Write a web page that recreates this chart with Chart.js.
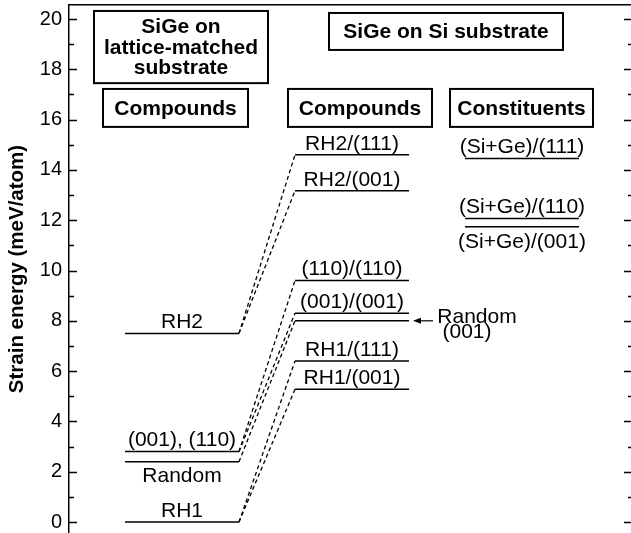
<!DOCTYPE html>
<html><head><meta charset="utf-8">
<script src="https://cdn.jsdelivr.net/npm/chart.js@4/dist/chart.umd.min.js"></script>
<style>html,body{margin:0;padding:0;background:#fff}canvas{display:block}</style>
</head><body>
<canvas id="c" width="631" height="533"></canvas>
<script>
// ---------- data ----------
const yMajorTicks = [0, 2, 4, 6, 8, 10, 12, 14, 16, 18, 20];
const yMinorTicks = [1, 3, 5, 7, 9, 11, 13, 15, 17, 19];
const latticeLabels = ['RH1', 'Random', '(001), (110)', 'RH2'];
const latticeValues = [0, 2.4, 2.8, 7.5];
const siCompLabels = ['RH1/(001)', 'RH1/(111)', 'Random (001)', '(001)/(001)', '(110)/(110)', 'RH2/(001)', 'RH2/(111)'];
const siCompValues = [5.28, 6.4, 8.0, 8.3, 9.6, 13.17, 14.6];
const constLabels = ['(Si+Ge)/(001)', '(Si+Ge)/(110)', '(Si+Ge)/(111)'];
const constValues = [11.74, 12.07, 14.45];
// links: [lattice index, siComp index]
const links = [[3, 6], [3, 5], [2, 4], [2, 3], [1, 2], [0, 1], [0, 0]];

// ---------- layout (x in plot-width units, not data) ----------
const FONT = "'Liberation Sans', Arial, Helvetica, sans-serif";
const COL = { lattice: [56, 170], comp: [226, 340], cons: [396, 510] };
const latticePlace = ['above', 'below', 'above', 'above'];
const siCompPlace = ['above', 'above', 'none', 'above', 'above', 'above', 'above'];
const constPlace = ['below', 'above', 'above'];
const boxes = [
  { x0: 25, x1: 199, y0: 20.32, y1: 17.45, lines: ['SiGe on', 'lattice-matched', 'substrate'] },
  { x0: 34, x1: 179, y0: 17.22, y1: 15.71, lines: ['Compounds'] },
  { x0: 260, x1: 494, y0: 20.24, y1: 18.77, lines: ['SiGe on Si substrate'] },
  { x0: 219, x1: 363, y0: 17.22, y1: 15.71, lines: ['Compounds'] },
  { x0: 381, x1: 524, y0: 17.22, y1: 15.71, lines: ['Constituents'] }
];

const datasets = [];
function seg(x0, x1, y) {
  datasets.push({
    data: [{ x: x0, y: y }, { x: x1, y: y }],
    borderColor: '#000', borderWidth: 1.5, pointRadius: 0, tension: 0
  });
}
latticeValues.forEach(v => seg(COL.lattice[0], COL.lattice[1], v));
siCompValues.forEach(v => seg(COL.comp[0], COL.comp[1], v));
constValues.forEach(v => seg(COL.cons[0], COL.cons[1], v));
links.forEach(([a, b]) => {
  datasets.push({
    data: [{ x: COL.lattice[1], y: latticeValues[a] }, { x: COL.comp[0], y: siCompValues[b] }],
    borderColor: '#000', borderWidth: 1.3, pointRadius: 0, borderDash: [4, 3]
  });
});

const annot = {
  id: 'annot',
  afterDatasetsDraw(chart) {
    const { ctx, scales: { x, y }, chartArea: ca } = chart;
    ctx.save();
    ctx.fillStyle = '#000'; ctx.strokeStyle = '#000';
    // inward ticks
    ctx.lineWidth = 1.5;
    yMajorTicks.concat(yMinorTicks).forEach(v => {
      const major = yMajorTicks.includes(v);
      const py = Math.round(y.getPixelForValue(v)) + 0.5;
      ctx.beginPath();
      ctx.moveTo(ca.left, py); ctx.lineTo(ca.left + (major ? 8 : 5), py);
      ctx.moveTo(ca.right, py); ctx.lineTo(ca.right - (major ? 7 : 3), py);
      ctx.stroke();
    });
    // level labels
    ctx.font = '21px ' + FONT;
    ctx.textAlign = 'center'; ctx.textBaseline = 'middle';
    function lab(col, vals, labels, place) {
      const cx = x.getPixelForValue((col[0] + col[1]) / 2);
      vals.forEach((v, i) => {
        if (place[i] === 'none') return;
        const py = y.getPixelForValue(v);
        ctx.fillText(labels[i], cx, py + (place[i] === 'above' ? -11 : 15));
      });
    }
    lab(COL.lattice, latticeValues, latticeLabels, latticePlace);
    lab(COL.comp, siCompValues, siCompLabels, siCompPlace);
    lab(COL.cons, constValues, constLabels, constPlace);
    // Random (001) arrow annotation
    const ri = siCompLabels.indexOf('Random (001)');
    const ry = y.getPixelForValue(siCompValues[ri]);
    const ax0 = x.getPixelForValue(COL.comp[1] + 4), ax1 = x.getPixelForValue(COL.comp[1] + 24);
    ctx.lineWidth = 1.2;
    ctx.beginPath(); ctx.moveTo(ax1, ry); ctx.lineTo(ax0 + 5, ry); ctx.stroke();
    ctx.beginPath(); ctx.moveTo(ax0, ry); ctx.lineTo(ax0 + 8, ry - 3); ctx.lineTo(ax0 + 8, ry + 3); ctx.closePath(); ctx.fill();
    const parts = siCompLabels[ri].split(' ');
    ctx.fillText(parts[0], x.getPixelForValue(COL.comp[1] + 68), ry - 4);
    ctx.fillText(parts[1], x.getPixelForValue(COL.comp[1] + 58), ry + 11);
    // boxes
    ctx.lineWidth = 2;
    ctx.font = 'bold 21px ' + FONT;
    boxes.forEach(b => {
      const px0 = x.getPixelForValue(b.x0), px1 = x.getPixelForValue(b.x1);
      const py0 = y.getPixelForValue(b.y0), py1 = y.getPixelForValue(b.y1);
      ctx.strokeRect(px0, py0, px1 - px0, py1 - py0);
      const cx = (px0 + px1) / 2, cy = (py0 + py1) / 2, lh = 20.5;
      b.lines.forEach((t, i) => ctx.fillText(t, cx, cy + (i - (b.lines.length - 1) / 2) * lh + 1));
    });
    ctx.restore();
  }
};

Chart.defaults.font.family = FONT;
new Chart(document.getElementById('c'), {
  type: 'line',
  data: { datasets },
  options: {
    responsive: false, animation: false,
    layout: { padding: { top: 5, left: 0, right: 0, bottom: 0 } },
    plugins: { legend: { display: false }, tooltip: { enabled: false } },
    scales: {
      x: {
        type: 'linear', position: 'top', min: 0, max: 562,
        ticks: { display: false }, grid: { drawOnChartArea: false, drawTicks: false },
        border: { display: true, color: '#000', width: 1.5 },
        afterFit: s => { s.height = 0; s.paddingLeft = 0; s.paddingRight = 0; }
      },
      y: {
        type: 'linear', min: -0.437, max: 20.557,
        afterBuildTicks: s => { s.ticks = yMajorTicks.concat(yMinorTicks).sort((a, b) => a - b).map(v => ({ value: v })); },
        ticks: {
          autoSkip: false, color: '#000', padding: 7,
          font: { size: 20, family: FONT },
          callback: v => yMajorTicks.includes(v) ? String(v) : ''
        },
        grid: { drawOnChartArea: false, drawTicks: false },
        border: { display: true, color: '#000', width: 1.5 },
        title: { display: true, text: 'Strain energy (meV/atom)', color: '#000', font: { size: 20.5, weight: 'bold', family: FONT }, padding: { top: 5, bottom: 0 } },
        afterFit: s => { s.width = 69; s.paddingTop = 0; s.paddingBottom = 0; }
      }
    }
  },
  plugins: [annot]
});
</script>
</body></html>
